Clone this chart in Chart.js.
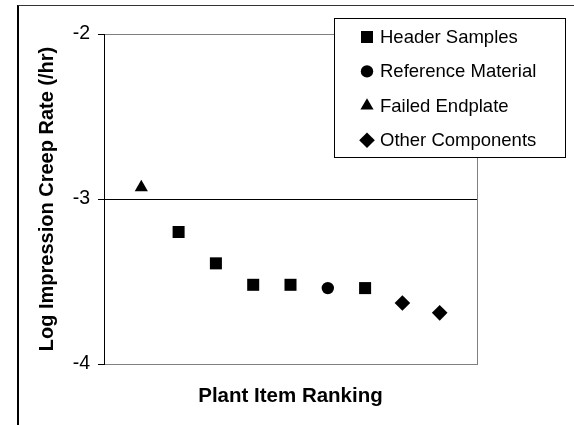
<!DOCTYPE html>
<html>
<head>
<meta charset="utf-8">
<title>Impression creep ranking</title>
<script src="https://cdn.jsdelivr.net/npm/chart.js@4.4.1/dist/chart.umd.min.js"></script>
<style>
  html, body { margin: 0; padding: 0; background: #fff; }
  #wrap { width: 574px; height: 425px; }
</style>
</head>
<body>
<div id="wrap"><canvas id="creep" width="574" height="425"></canvas></div>
<script>
// Rank of each plant item and its log impression creep rate (/hr), per group
const headerRanks = [2, 3, 4, 5, 7];
const headerRates = [-3.20, -3.39, -3.52, -3.52, -3.54];
const referenceRanks = [6];
const referenceRates = [-3.54];
const endplateRanks = [1];
const endplateRates = [-2.93];
const otherRanks = [8, 9];
const otherRates = [-3.63, -3.69];

const yTicks = [-2, -3, -4];

const FONT = "'Liberation Sans', Arial, Helvetica, sans-serif";

function toPoints(xs, ys) {
    return xs.map((x, i) => ({ x: x, y: ys[i] }));
}

function series(label, xs, ys, pointStyle, radius) {
    return {
        label: label,
        data: toPoints(xs, ys),
        pointStyle: pointStyle,
        pointRadius: radius,
        pointHoverRadius: radius,
        backgroundColor: '#000',
        borderColor: '#000',
        borderWidth: 0,
        showLine: false,
    };
}

// ─── Frame + plot border (drawn under the scales) ─────────────────
const framePlugin = {
    id: 'frame',
    beforeDraw(chart) {
        const { ctx, chartArea: a } = chart;
        ctx.save();
        ctx.fillStyle = '#fff';
        ctx.fillRect(0, 0, chart.width, chart.height);

        // outer chart border, cut off at the right and bottom
        ctx.strokeStyle = '#000';
        ctx.lineWidth = 2;
        ctx.beginPath();
        ctx.moveTo(18, chart.height);
        ctx.lineTo(18, 5);
        ctx.stroke();
        ctx.strokeStyle = '#333';
        ctx.lineWidth = 1;
        ctx.beginPath();
        ctx.moveTo(18, 5.5);
        ctx.lineTo(chart.width, 5.5);
        ctx.stroke();

        // grey plot area border
        ctx.strokeStyle = '#808080';
        ctx.lineWidth = 1;
        ctx.strokeRect(a.left + 0.5, a.top + 0.5, a.right - a.left, a.bottom - a.top);
        ctx.restore();
    },
};

// ─── Boxed legend sitting over the top-right corner ───────────────
const boxLegend = {
    id: 'boxLegend',
    afterDraw(chart) {
        const { ctx } = chart;
        const box = { left: 334, top: 18, right: 565, bottom: 157 };
        const markerX = 367;
        const textX = 380;
        const firstRow = 37;
        const rowStep = 34.4;

        ctx.save();
        ctx.fillStyle = '#fff';
        ctx.fillRect(box.left, box.top, box.right - box.left, box.bottom - box.top);
        ctx.strokeStyle = '#000';
        ctx.lineWidth = 1;
        ctx.strokeRect(box.left + 0.5, box.top + 0.5, box.right - box.left, box.bottom - box.top);

        ctx.font = '18.5px ' + FONT;
        ctx.textBaseline = 'middle';
        ctx.textAlign = 'left';
        chart.data.datasets.forEach((ds, i) => {
            const y = firstRow + i * rowStep;
            ctx.fillStyle = '#000';
            ctx.strokeStyle = '#000';
            Chart.helpers.drawPoint(ctx, {
                pointStyle: ds.pointStyle,
                radius: ds.pointRadius,
                rotation: 0,
                borderWidth: 0,
            }, markerX, y);
            ctx.fillStyle = '#000';
            ctx.fillText(ds.label, textX, y + 1);
        });
        ctx.restore();
    },
};

new Chart(document.getElementById('creep'), {
    type: 'scatter',
    data: {
        datasets: [
            series('Header Samples', headerRanks, headerRates, 'rect', 8.5),
            series('Reference Material', referenceRanks, referenceRates, 'circle', 6.2),
            series('Failed Endplate', endplateRanks, endplateRates, 'triangle', 7.6),
            series('Other Components', otherRanks, otherRates, 'rectRot', 7.8),
        ],
    },
    options: {
        responsive: false,
        animation: false,
        events: [],
        layout: { padding: { left: 0, top: 34, right: 97, bottom: 0 } },
        plugins: {
            legend: { display: false },
            tooltip: { enabled: false },
        },
        scales: {
            x: {
                type: 'linear',
                min: 0,
                max: 10,
                ticks: { display: false },
                grid: { display: false },
                border: { display: false },
                title: {
                    display: true,
                    text: 'Plant Item Ranking',
                    color: '#000',
                    font: { family: FONT, size: 20.5, weight: 'bold' },
                    padding: { top: 0, bottom: 16 },
                },
                afterFit: (scale) => { scale.height = 61; },
            },
            y: {
                type: 'linear',
                min: -4,
                max: -2,
                afterBuildTicks: (scale) => {
                    scale.ticks = yTicks.map(v => ({ value: v }));
                },
                ticks: {
                    color: '#000',
                    padding: 8,
                    font: { family: FONT, size: 19.5 },
                },
                grid: {
                    color: (ctx) => (ctx.tick && ctx.tick.value === -3 ? '#000' : 'rgba(0,0,0,0)'),
                    tickColor: '#000',
                    tickLength: 6,
                    lineWidth: 1,
                },
                border: { color: '#000', width: 1 },
                title: {
                    display: true,
                    text: 'Log Impression Creep Rate (/hr)',
                    color: '#000',
                    font: { family: FONT, size: 20, weight: 'bold' },
                    padding: { top: 35, bottom: 0 },
                },
                afterFit: (scale) => { scale.width = 104; },
            },
        },
    },
    plugins: [framePlugin, boxLegend],
});
</script>
</body>
</html>
